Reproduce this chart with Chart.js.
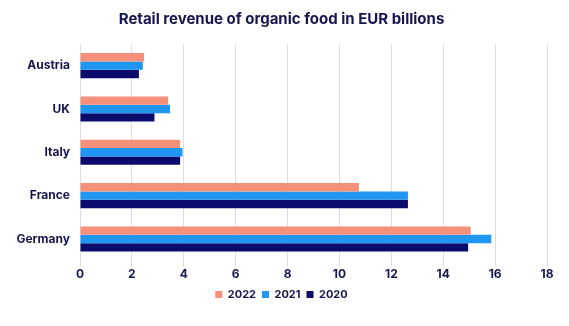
<!DOCTYPE html>
<html>
<head>
<meta charset="utf-8">
<script src="https://cdn.jsdelivr.net/npm/chart.js@4"></script>
<style>
  html, body { margin: 0; padding: 0; background: #fff; }
  #wrap { width: 569px; height: 326px; }
</style>
</head>
<body>
<div id="wrap"><canvas id="organic-chart"></canvas></div>
<script>
// Chart data
const countries = ['Austria', 'UK', 'Italy', 'France', 'Germany'];
const revenue2022 = [2.47, 3.40, 3.86, 10.75, 15.06];
const revenue2021 = [2.42, 3.47, 3.95, 12.64, 15.85];
const revenue2020 = [2.27, 2.87, 3.86, 12.64, 14.96];
const xTicks = [0, 2, 4, 6, 8, 10, 12, 14, 16, 18];

const navy = '#16164f';
Chart.defaults.font.family = 'Inter, "Noto Sans", sans-serif';

const ctx = document.getElementById('organic-chart').getContext('2d');
const chart = new Chart(ctx, {
    type: 'bar',
    data: {
        labels: countries,
        datasets: [
            { label: '2022', data: revenue2022, backgroundColor: '#f5917b' },
            { label: '2021', data: revenue2021, backgroundColor: '#1f97f2' },
            { label: '2020', data: revenue2020, backgroundColor: '#0b0b6b' }
        ]
    },
    options: {
        indexAxis: 'y',
        responsive: true,
        maintainAspectRatio: false,
        animation: false,
        datasets: {
            bar: { barPercentage: 1, categoryPercentage: 0.58 }
        },
        layout: { padding: { left: 16, right: 22, top: 4, bottom: 16 } },
        plugins: {
            title: {
                display: true,
                text: 'Retail revenue of organic food in EUR billions',
                color: navy,
                font: { size: 15, weight: 'bold' },
                padding: { top: 6, bottom: 16 }
            },
            legend: {
                position: 'bottom',
                labels: {
                    boxWidth: 7,
                    boxHeight: 7,
                    color: navy,
                    font: { size: 11, weight: 'bold' },
                    padding: 6
                }
            },
            tooltip: { enabled: false }
        },
        scales: {
            x: {
                min: 0,
                max: 18,
                afterBuildTicks: function(axis) {
                    axis.ticks = xTicks.map(v => ({ value: v }));
                },
                grid: { color: '#dddddd', drawTicks: true, tickLength: 6 },
                border: { display: false },
                ticks: { color: navy, font: { size: 12, weight: 'bold' }, padding: 1 }
            },
            y: {
                afterFit: function(axis) {
                    axis.width = 64;
                },
                grid: { display: false },
                border: { display: false },
                ticks: { color: navy, font: { size: 12, weight: 'bold' }, padding: 2 }
            }
        }
    }
});
</script>
</body>
</html>
